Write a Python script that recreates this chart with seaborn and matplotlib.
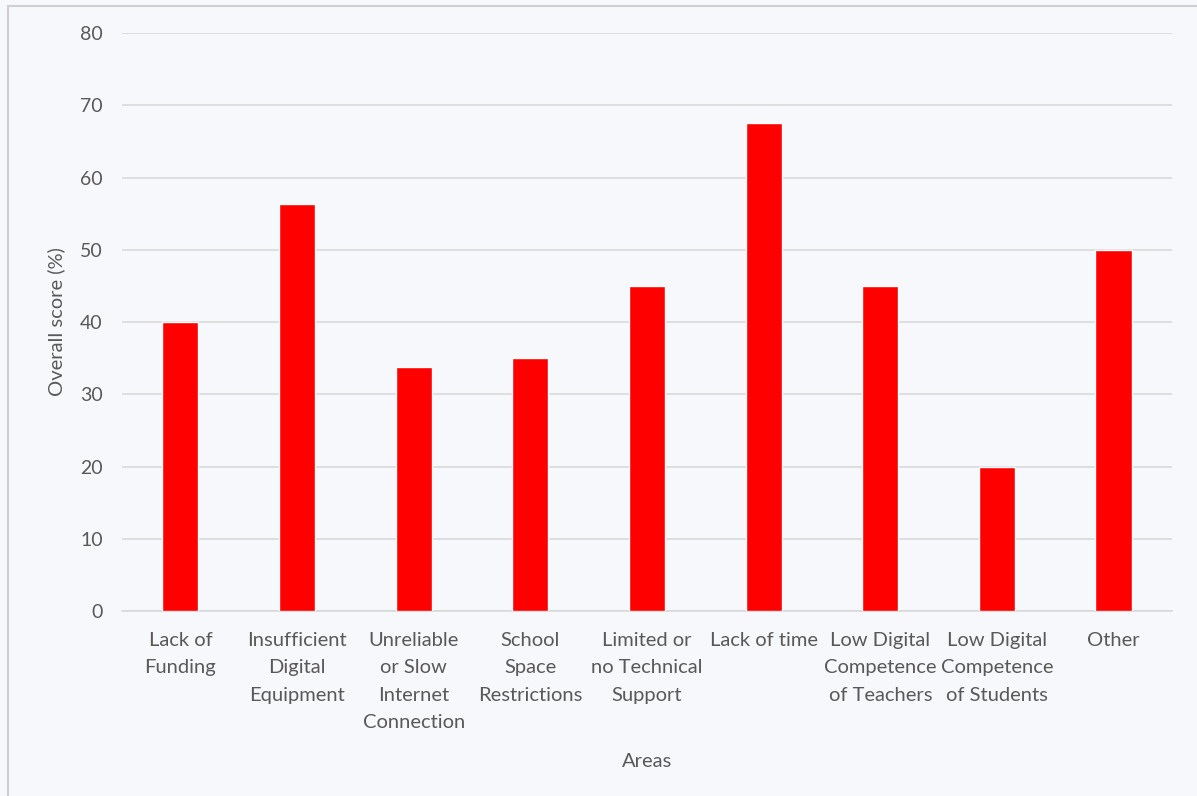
import matplotlib
matplotlib.use("Agg")
import matplotlib.pyplot as plt
import seaborn as sns
import pandas as pd
from matplotlib.patches import Rectangle

# barriers to digital education
areas = [
    "Lack of\nFunding",
    "Insufficient\nDigital\nEquipment",
    "Unreliable\nor Slow\nInternet\nConnection",
    "School\nSpace\nRestrictions",
    "Limited or\nno Technical\nSupport",
    "Lack of time",
    "Low Digital\nCompetence\nof Teachers",
    "Low Digital\nCompetence\nof Students",
    "Other",
]
scores = [40, 56.3, 33.8, 35, 45, 67.5, 45, 20, 50]
yticks = [0, 10, 20, 30, 40, 50, 60, 70, 80]

df = pd.DataFrame({"Areas": areas, "Score": scores})

bg = "#f7f8fc"
txt = "#595959"

sns.set_theme(style="white")
plt.rcParams["font.family"] = ["Lato", "DejaVu Sans"]

fig = plt.figure(figsize=(11.97, 7.96), dpi=100, facecolor=bg)
ax = fig.add_axes([0.102, 0.2324, 0.877, 0.7261])
ax.set_facecolor(bg)

sns.barplot(data=df, x="Areas", y="Score", color="#ff0000", saturation=1,
            width=0.31, ax=ax, zorder=3)

ax.set_ylim(0, 80)
ax.set_yticks(yticks)
ax.set_xlim(-0.5, len(areas) - 0.5)
ax.grid(axis="y", color="#d9d9d9", linewidth=1.2, zorder=0)
ax.set_axisbelow(True)
for s in ["top", "right", "left"]:
    ax.spines[s].set_visible(False)
ax.spines["bottom"].set_color("#d9d9d9")
ax.spines["bottom"].set_linewidth(1.2)

ax.tick_params(axis="y", length=0, pad=14, labelsize=14, labelcolor=txt)
ax.tick_params(axis="x", length=0, pad=15, labelsize=14.5, labelcolor=txt)
for lab in ax.get_xticklabels():
    lab.set_linespacing(1.74)

ax.set_xlabel("Areas", fontsize=14.5, color=txt)
ax.set_ylabel("Overall score (%)", fontsize=14.5, color=txt)
ax.xaxis.set_label_coords(0.5, -0.245)
ax.yaxis.set_label_coords(-0.054, 0.5)

# light frame round the chart, as in the original export
fig.patches.append(Rectangle((8 / 1197, -0.1), 1.2, 1.1 - 6 / 796,
                             transform=fig.transFigure, fill=False,
                             edgecolor="#d0d0d0", linewidth=1.5))

fig.savefig("out.png", dpi=100, facecolor=bg)
